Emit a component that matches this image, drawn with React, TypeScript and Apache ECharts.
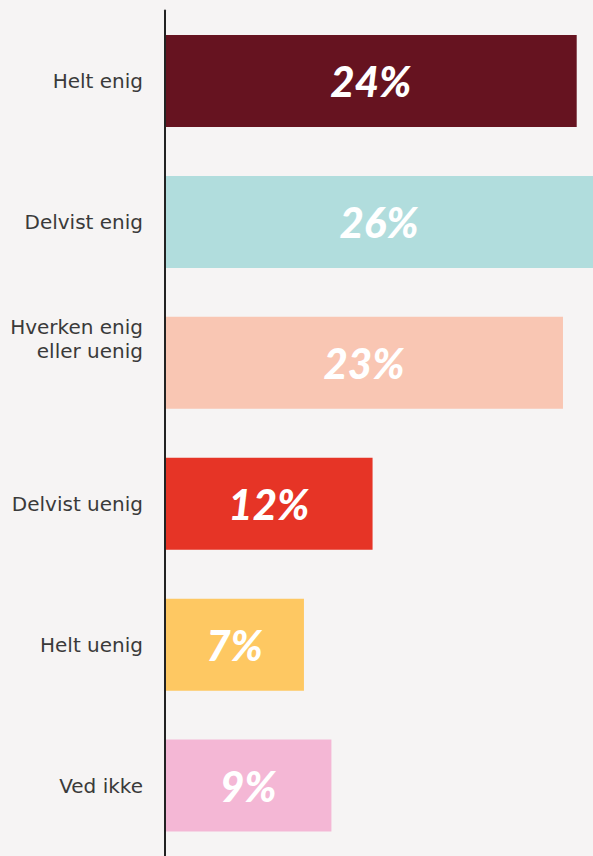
import React, { useEffect, useRef } from "react";
import * as echarts from "echarts";

const categories = [
  "Helt enig",
  "Delvist enig",
  "Hverken enig\neller uenig",
  "Delvist uenig",
  "Helt uenig",
  "Ved ikke",
];
// bar lengths (percent units)
const values = [24, 26, 23.2, 12.1, 8.1, 9.7];
const valueLabels = ["24%", "26%", "23%", "12%", "7%", "9%"];
const colors = ["#661320", "#b1dddd", "#f9c6b3", "#e63426", "#fec862", "#f4b7d5"];
const axisMax = 24.95;

export default function App() {
  const ref = useRef<HTMLDivElement>(null);
  useEffect(() => {
    if (!ref.current) return;
    const chart = echarts.init(ref.current, undefined, { renderer: "svg" });
    chart.setOption({
      animation: false,
      backgroundColor: "#f6f4f4",
      grid: { left: 165, right: 0, top: 10.5, bottom: 0, containLabel: false },
      xAxis: {
        type: "value",
        min: 0,
        max: axisMax,
        show: false,
      },
      yAxis: {
        type: "category",
        inverse: true,
        z: 5,
        data: categories.map((c, i) =>
          i === 2 ? { value: c, textStyle: { verticalAlign: "bottom" } } : c
        ),
        axisLine: { show: true, lineStyle: { color: "#222222", width: 2 } },
        axisTick: { show: false },
        axisLabel: {
          margin: 22,
          color: "#3a3a3a",
          fontFamily: "'DejaVu Sans', sans-serif",
          fontWeight: 400,
          fontSize: 20,
          lineHeight: 24,
          align: "right",
        },
      },
      series: [
        {
          type: "bar",
          barWidth: 92,
          clip: true,
          data: values.map((v, i) => ({
            value: v,
            itemStyle: { color: colors[i] },
            label: { formatter: valueLabels[i] },
          })),
          label: {
            show: true,
            position: "inside",
            color: "#ffffff",
            fontFamily: "Lato, 'Open Sans', sans-serif",
            fontWeight: 900,
            fontStyle: "italic",
            fontSize: 42,
          },
        },
      ],
    });
    return () => chart.dispose();
  }, []);
  return (
    <div
      ref={ref}
      style={{ position: "fixed", left: 0, top: 0, width: 593, height: 856 }}
    />
  );
}
